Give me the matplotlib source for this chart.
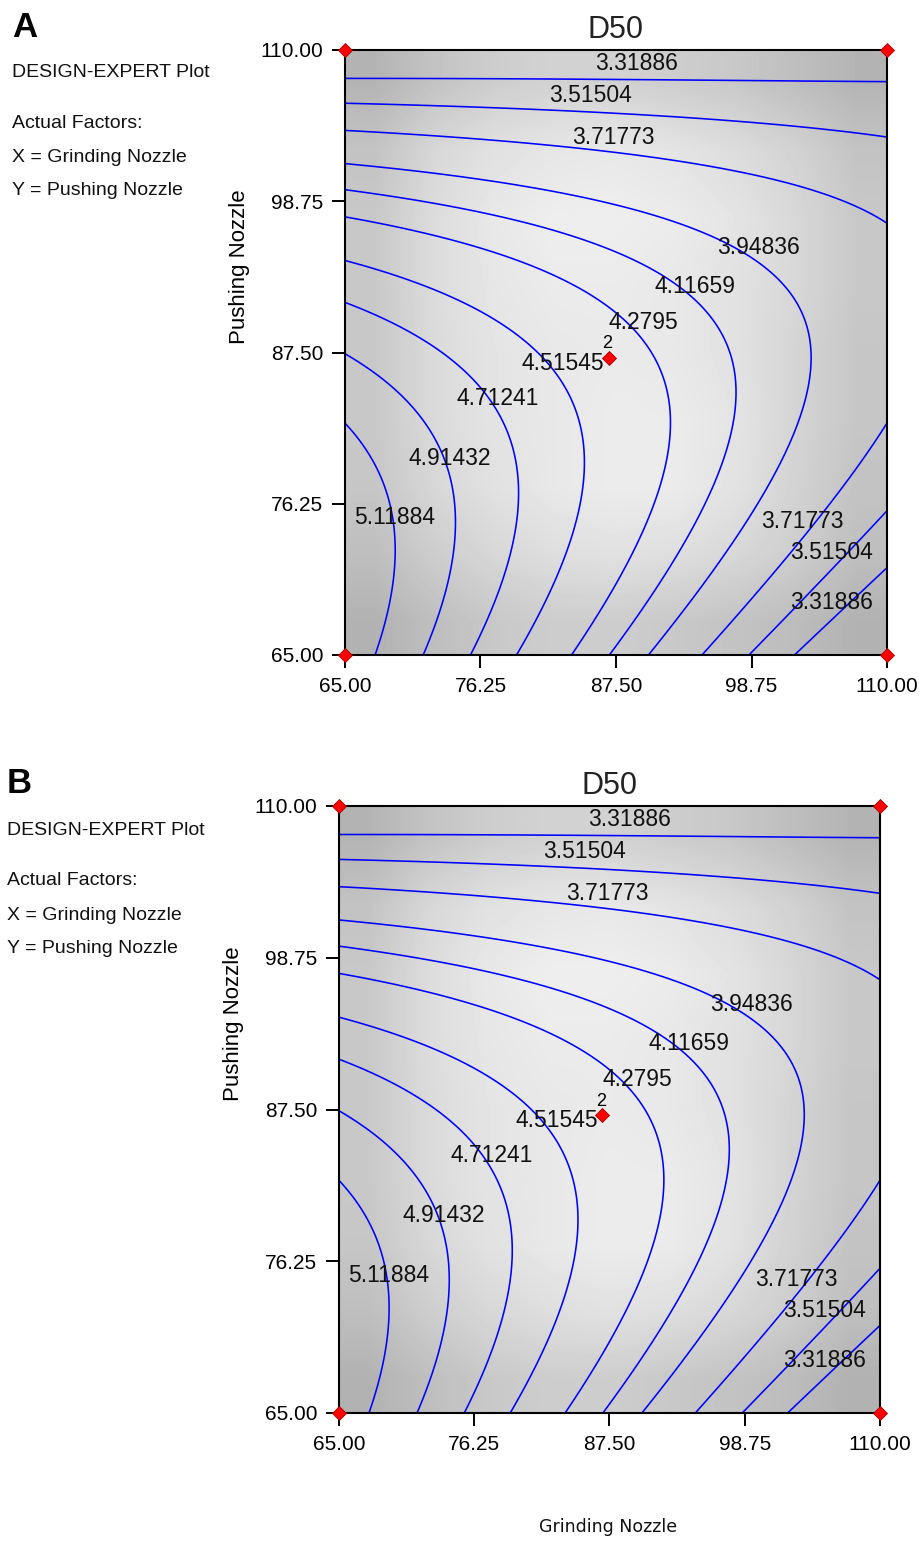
#!/usr/bin/env python3

"""
Two Design-Expert style contour plots of D50 over Grinding Nozzle (x)
and Pushing Nozzle (y). Panel A and B show the same response surface.
"""

import numpy as np
import matplotlib
matplotlib.use('Agg')
import matplotlib.pyplot as plt

plt.rcParams['font.family'] = ['Liberation Sans', 'DejaVu Sans']

# ---------------------------------------------------------------------------
# Data
# ---------------------------------------------------------------------------
contour_levels = [3.31886, 3.51504, 3.71773, 3.94836, 4.11659,
                  4.2795, 4.51545, 4.71241, 4.91432, 5.11884]

# points (Grinding, Pushing)
trace_331886 = [(65, 107.97), (68.5, 107.9), (82, 107.85), (97, 107.85), (100, 107.75), (110, 107.75),
                (102.4, 65), (104.2, 66.3), (106.3, 68.3), (108.8, 70.6), (110, 71.3)]
trace_351504 = [(65, 106.04), (72.6, 105.79), (81.8, 105.54), (88.4, 105.3), (93.1, 104.93),
                (97.3, 104.68), (101.7, 104.31), (106.2, 103.81), (110, 103.44),
                (98.5, 65), (102.2, 68.6), (106.3, 72.3), (109.8, 75.4)]
trace_371773 = [(65, 103.99), (75.0, 103.3), (81.8, 102.82), (87.0, 102.44), (94.3, 101.58),
                (97.3, 101.09), (101.4, 100.1), (104.1, 99.6), (106.3, 98.6), (110, 97.0),
                (94.5, 65), (98.6, 69.3), (102.5, 73.3), (106.3, 77.5), (109.7, 82.0)]
trace_394836 = [(65, 101.57), (76.4, 100.3), (87.0, 98.6), (95.3, 96.1), (99.2, 95.1),
                (101.4, 92.4), (103.4, 88.95), (103.8, 86.7), (103.4, 83.7), (102.6, 82.5),
                (100.9, 79.3), (98.6, 76.0), (96.1, 72.6), (92.6, 68.6), (90.3, 65)]
trace_411659 = [(65, 99.64), (76.2, 97.9), (87.0, 95.1), (90.6, 93.4), (93.4, 91.9),
                (96.1, 89.2), (97.2, 86.7), (97.4, 82.7), (96.4, 78.2), (94.5, 74.3),
                (91.2, 69.6), (87.3, 65)]
trace_427950 = [(65, 97.6), (76.2, 95.3), (87.0, 90.7), (88.7, 89.2), (90.6, 87.7),
                (91.6, 85.5), (92.0, 82.5), (91.8, 80.6), (89.7, 74.3), (87.0, 69.6), (83.7, 65)]
trace_451545 = [(65, 94.38), (72.9, 92.1), (81.2, 87.5), (83.9, 84.7), (84.5, 82.5),
                (84.7, 78.2), (83.7, 73.8), (81.2, 68.6), (79.3, 65)]
trace_471241 = [(65, 91.28), (70.1, 89.2), (76.0, 85.5), (78.3, 82.1), (79.4, 76.5),
                (78.5, 71.3), (75.4, 65)]
trace_491432 = [(65, 87.31), (67.9, 85.2), (71.8, 82.1), (74.1, 75.8), (73.9, 72.1), (71.5, 65)]
trace_511884 = [(65, 82.2), (68.7, 76.5), (69.2, 72.1), (67.5, 65)]

traces = [trace_331886, trace_351504, trace_371773, trace_394836, trace_411659,
          trace_427950, trace_451545, trace_471241, trace_491432, trace_511884]

# design points (red diamonds); the centre point is replicated twice
design_x = [65, 110, 65, 110, 86.9]
design_y = [110, 110, 65, 65, 87.1]
center_reps = '2'

tick_values = [65, 76.25, 87.5, 98.75, 110]
tick_labels = ['65.00', '76.25', '87.50', '98.75', '110.00']

# background shading, grey levels (rows top->bottom, cols left->right)
shade_gray = np.array([
    [180, 195, 205, 210, 210, 205, 200, 190, 180],
    [195, 215, 225, 230, 232, 228, 220, 210, 195],
    [200, 220, 232, 238, 238, 235, 228, 215, 200],
    [200, 220, 230, 235, 235, 232, 225, 215, 200],
    [200, 218, 228, 232, 234, 232, 225, 212, 198],
    [200, 218, 228, 232, 236, 235, 228, 212, 198],
    [198, 215, 225, 232, 236, 235, 226, 210, 195],
    [190, 205, 215, 222, 225, 222, 215, 205, 190],
    [178, 190, 200, 205, 205, 200, 195, 188, 178],
])

# contour label placement (text centres) and the level each one names
label_spots = [(89.2, 109.0), (85.4, 106.6), (87.3, 103.5), (99.3, 95.3), (94.1, 92.4),
               (89.8, 89.7), (83.1, 86.7), (77.7, 84.1), (73.7, 79.65), (69.15, 75.2),
               (103.0, 74.9), (105.4, 72.6), (105.4, 68.9)]
label_level_idx = [0, 1, 2, 3, 4, 5, 6, 7, 8, 9, 2, 1, 0]

LO, HI = 65.0, 110.0
MID, HALF = 87.5, 22.5


def cubic_terms(X, Y):
    return [np.ones_like(X), X, Y, X * Y, X ** 2, Y ** 2,
            X ** 2 * Y, X * Y ** 2, X ** 3, Y ** 3]


def fit_surface():
    """Least squares cubic response surface through the traced contour points."""
    xs, ys, zs = [], [], []
    for lvl, pts in zip(contour_levels, traces):
        for px, py in pts:
            xs.append(px)
            ys.append(py)
            zs.append(lvl)
    X = (np.array(xs) - MID) / HALF
    Y = (np.array(ys) - MID) / HALF
    A = np.column_stack(cubic_terms(X, Y))
    coef, *_ = np.linalg.lstsq(A, np.array(zs), rcond=None)
    return coef


def surface_grid(coef, n=300):
    g = np.linspace(LO, HI, n)
    gx, gy = np.meshgrid(g, g)
    X = (gx - MID) / HALF
    Y = (gy - MID) / HALF
    gz = sum(c * t for c, t in zip(coef, cubic_terms(X, Y)))
    return gx, gy, gz


def draw_panel(ax, gx, gy, gz):
    ax.imshow(shade_gray, cmap='gray', vmin=0, vmax=255, extent=[LO, HI, LO, HI],
              origin='upper', interpolation='bilinear', aspect='auto', zorder=0)
    ax.contour(gx, gy, gz, levels=contour_levels, colors='#0000ff',
               linewidths=1.15, zorder=2)

    for (lx, ly), li in zip(label_spots, label_level_idx):
        ax.text(lx, ly, f'{contour_levels[li]:g}', ha='center', va='center',
                fontsize=16.5, color='#111111', zorder=3)

    ax.plot(design_x, design_y, 'D', color='#ff0000', mec='#a00000', mew=0.6,
            ms=7.2, clip_on=False, zorder=6)
    ax.annotate(center_reps, (design_x[4], design_y[4]), xytext=(-1, 10),
                textcoords='offset points', ha='center', va='center', fontsize=13)

    ax.set_xlim(LO, HI)
    ax.set_ylim(LO, HI)
    ax.set_xticks(tick_values)
    ax.set_xticklabels(tick_labels)
    ax.set_yticks(tick_values)
    ax.set_yticklabels(tick_labels)
    ax.tick_params(direction='out', length=9.5, width=1.4, labelsize=15, pad=6)
    for sp in ax.spines.values():
        sp.set_linewidth(1.5)

    ax.set_title('D50', fontsize=22, pad=8.5, color='#222222')
    ax.set_ylabel('Pushing Nozzle', fontsize=16)
    ax.yaxis.set_label_coords(-0.176, 0.642)


def side_notes(fig, letter, x0, baselines):
    W, H = 920.0, 1541.0
    fig.text(x0 / W, 1 - baselines[0] / H, letter, fontsize=25, fontweight='bold',
             va='baseline', ha='left')
    notes = ['DESIGN-EXPERT Plot', 'Actual Factors:', 'X = Grinding Nozzle',
             'Y = Pushing Nozzle']
    for txt, b in zip(notes, baselines[1:]):
        fig.text(x0 / W, 1 - b / H, txt, fontsize=14, va='baseline', ha='left',
                 color='#111111')


def main():
    coef = fit_surface()
    gx, gy, gz = surface_grid(coef)

    W, H = 920.0, 1541.0
    fig = plt.figure(figsize=(9.2, 15.41), dpi=100)

    ax_a = fig.add_axes([345 / W, 1 - 655 / H, 542 / W, 605 / H])
    ax_b = fig.add_axes([339 / W, 1 - 1413 / H, 541 / W, 607 / H])

    draw_panel(ax_a, gx, gy, gz)
    draw_panel(ax_b, gx, gy, gz)

    side_notes(fig, 'A', 12, [37, 77, 128, 162, 195])
    side_notes(fig, 'B', 7, [793, 835, 885, 920, 953])

    fig.text(608 / W, 1 - 1527 / H, 'Grinding Nozzle', ha='center', va='center',
             fontsize=12.5, family='DejaVu Sans', color='#111111')

    fig.savefig('out.png', dpi=100)
    plt.close(fig)


if __name__ == '__main__':
    main()
